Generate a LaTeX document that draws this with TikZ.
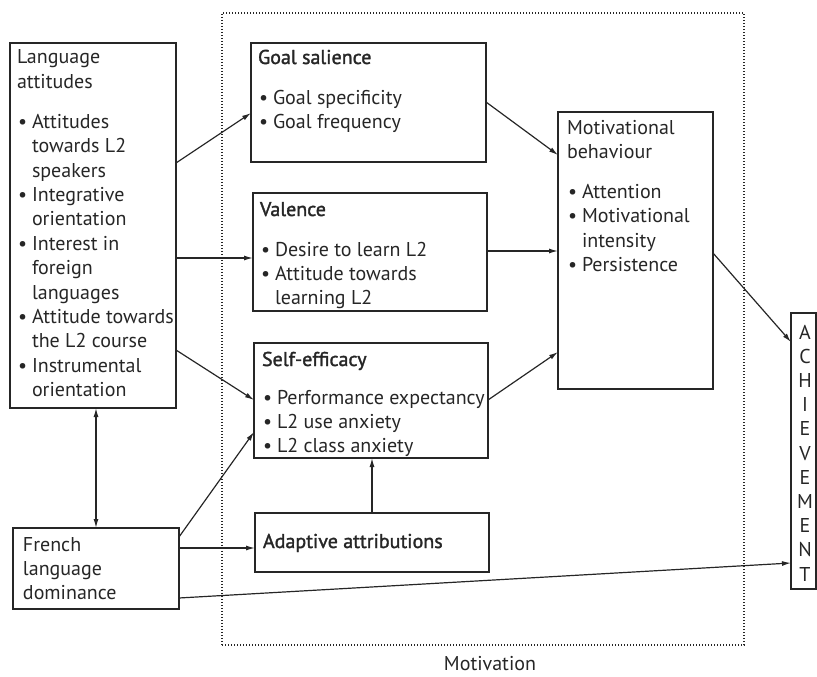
\documentclass[tikz,border=0pt]{standalone}
\usepackage{fontspec}
\setmainfont{PT Sans}
\newfontfamily\semib[FakeBold=1.6]{PT Sans}
\usetikzlibrary{arrows.meta,calc}

\definecolor{ink}{HTML}{262626}
\newcommand{\bul}{\makebox[15pt][l]{\hspace{1pt}\textbullet}}
\newcommand{\ind}{\hspace*{15pt}}
\newcommand{\lines}[1]{\begin{tabular}[t]{@{}l@{}}#1\end{tabular}}

\begin{document}
\begin{tikzpicture}[x=1pt,y=-1pt,
  box/.style={draw=ink, line width=1.3pt, inner sep=0pt, outer sep=0pt, anchor=north west},
  frame/.style={draw=ink, line width=1.4pt, dash pattern=on 1.3pt off 1.7pt, inner sep=0pt, outer sep=0pt, anchor=north west},
  txt/.style={anchor=base west, inner sep=0pt, outer sep=0pt, text=ink, font=\fontsize{20}{24.4}\selectfont},
  conn/.style={draw=ink, line width=1.2pt, -{Latex[length=9pt,width=5pt]}},
  both/.style={draw=ink, line width=1.2pt, {Latex[length=9pt,width=5pt]}-{Latex[length=9pt,width=5pt]}},
]
\useasboundingbox (0,0) rectangle (817,677);

% dotted frame of the motivation block
\node[frame, minimum width=522pt, minimum height=632pt] (motbox) at (222,13) {};
\node[txt, anchor=base] (motlabel) at (490,670) {Motivation};

% boxes
\node[box, minimum width=166pt, minimum height=365pt] (la) at (10,43) {};
\node[box, minimum width=166pt, minimum height=81pt]  (fr) at (13,528) {};
\node[box, minimum width=235pt, minimum height=119pt] (gs) at (251,43) {};
\node[box, minimum width=234pt, minimum height=118pt] (val) at (253,193) {};
\node[box, minimum width=234pt, minimum height=115pt] (se) at (254,343) {};
\node[box, minimum width=234pt, minimum height=59pt]  (ad) at (255,513) {};
\node[box, minimum width=155pt, minimum height=277pt] (mb) at (558,112) {};
\node[box, minimum width=25pt,  minimum height=276pt] (ach) at (791,313) {};

% box texts
\node[txt] (latext) at (17,64) {\lines{Language\\ attitudes\\[15.6pt]
  \bul Attitudes\\ \ind towards L2\\ \ind speakers\\
  \bul Integrative\\ \ind orientation\\
  \bul Interest in\\ \ind foreign\\ \ind languages\\
  \bul Attitude towards\\ \ind the L2 course\\
  \bul Instrumental\\ \ind orientation}};
\node[txt] (frtext) at (23,551) {\lines{French\\ language\\ dominance}};
\node[txt] (gstext) at (258,64) {\lines{\semib Goal salience\\[15.6pt]
  \bul Goal specificity\\ \bul Goal frequency}};
\node[txt] (valtext) at (260,216) {\lines{\semib Valence\\[15.6pt]
  \bul Desire to learn L2\\ \bul Attitude towards\\ \ind learning L2}};
\node[txt] (setext) at (262,366) {\lines{\semib Self-efficacy\\[13.6pt]
  \bul Performance expectancy\\ \bul L2 use anxiety\\ \bul L2 class anxiety}};
\node[txt] (adtext) at (263,548) {\semib Adaptive attributions};
\node[txt] (mbtext) at (567,134) {\lines{Motivational\\ behaviour\\[15.6pt]
  \bul Attention\\ \bul Motivational\\ \ind intensity\\ \bul Persistence}};
\node[txt, anchor=base, font=\fontsize{20}{24.2}\selectfont] (achtext) at (805,339)
  {\begin{tabular}[t]{@{}c@{}}A\\ C\\ H\\ I\\ E\\ V\\ E\\ M\\ E\\ N\\ T\end{tabular}};

% connectors
\draw[conn] ($(la.north east)+(0,120)$) -- ($(gs.north west)+(0,70)$);
\draw[conn] ($(la.north east)+(0,215)$) -- ($(val.north west)+(0,65)$);
\draw[conn] ($(la.north east)+(0,307)$) -- ($(se.north west)+(0,57)$);
\draw[both] ($(la.south west)+(86,0)$) -- ($(fr.north west)+(83,0)$);
\draw[conn] ($(fr.north east)+(0,9)$) -- ($(se.north west)+(0,89)$);
\draw[conn] ($(fr.north east)+(0,20)$) -- ($(ad.north west)+(0,35)$);
\draw[conn] ($(fr.north east)+(0,70)$) -- ($(ach.north west)+(0,250)$);
\draw[conn] ($(ad.north west)+(117,0)$) -- ($(se.south west)+(118,0)$);
\draw[conn] ($(gs.north east)+(0,59)$) -- ($(mb.north west)+(0,43)$);
\draw[conn] ($(val.north east)+(0,58)$) -- ($(mb.north west)+(0,139)$);
\draw[conn] ($(se.north east)+(0,57)$) -- ($(mb.north west)+(0,240)$);
\draw[conn] ($(mb.north east)+(0,141)$) -- ($(ach.north west)+(0,29)$);
\end{tikzpicture}
\end{document}
